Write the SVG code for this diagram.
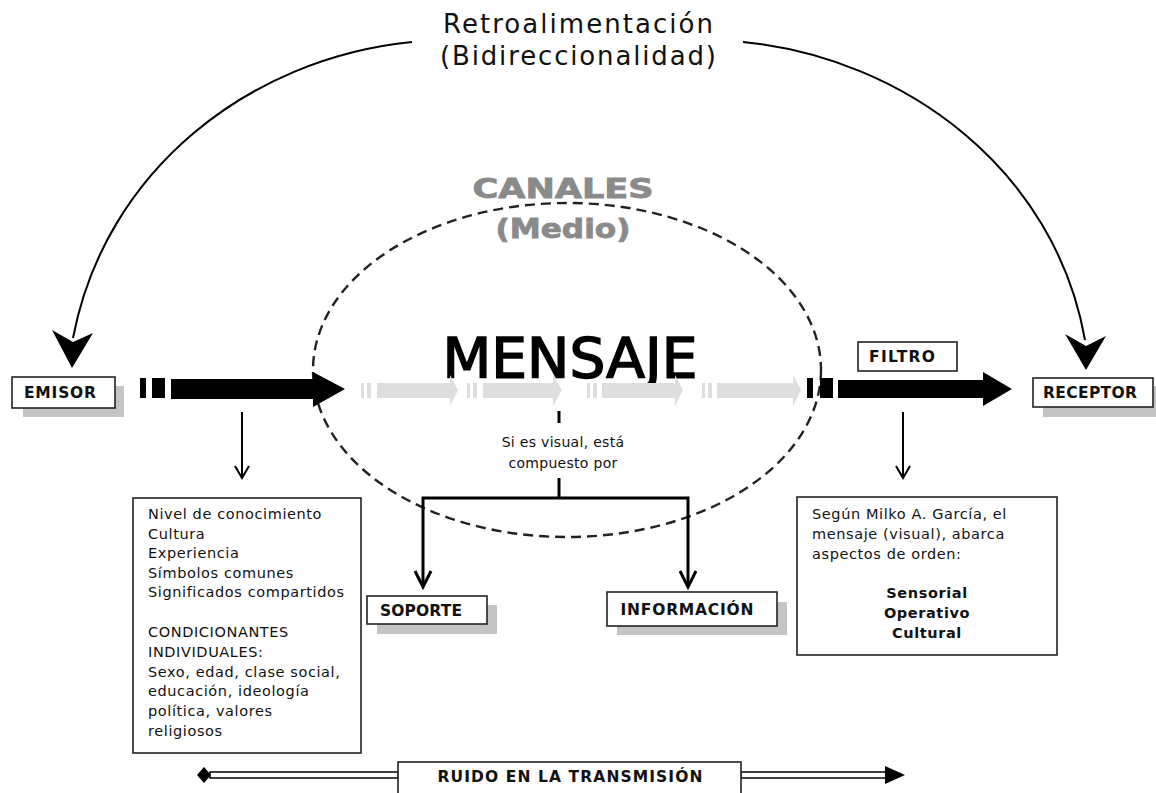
<svg xmlns="http://www.w3.org/2000/svg" width="1156" height="793" viewBox="0 0 1156 793">
<style>
.lbl{font-family:"DejaVu Sans","Verdana",sans-serif;font-weight:bold;font-size:15.5px;fill:#111}
.body{font-family:"DejaVu Sans","Verdana",sans-serif;font-size:14.5px;fill:#111;letter-spacing:0.6px}
.box{fill:#fff;stroke:#222;stroke-width:1.6}
.shadow{fill:#c4c4c4}
.ghost{fill:#dedede}
.blk{fill:#000}
.ln{fill:none;stroke:#000}
.gray{font-family:"DejaVu Sans","Liberation Sans",sans-serif;font-weight:bold;font-size:26px;fill:#8a8a8a;stroke:#8a8a8a;stroke-width:0.8}
.ttl{font-family:"DejaVu Sans","Verdana",sans-serif;font-size:26px;fill:#111}
</style>
<rect width="1156" height="793" fill="#fff"/>

<g id="title">
<text class="ttl" x="578" y="33" text-anchor="middle" textLength="270" lengthAdjust="spacing">Retroalimentación</text>
<text class="ttl" x="578" y="65" text-anchor="middle" textLength="276" lengthAdjust="spacing">(Bidireccionalidad)</text>
</g>

<g id="canales">
<ellipse cx="567" cy="370" rx="254" ry="167" fill="none" stroke="#222" stroke-width="2.4" stroke-dasharray="10,6"/>
<text class="gray" x="563" y="198" text-anchor="middle" textLength="181" lengthAdjust="spacingAndGlyphs">CANALES</text>
<text class="gray" x="563" y="238" text-anchor="middle" textLength="135" lengthAdjust="spacingAndGlyphs">(Medio)</text>
</g>

<g id="mensaje">
<text x="570" y="377" text-anchor="middle" font-family="DejaVu Sans, Verdana, sans-serif" font-size="55" fill="#000" stroke="#000" stroke-width="1.6" textLength="255" lengthAdjust="spacingAndGlyphs">MENSAJE</text>
</g>

<g id="connectors">
<path class="ln" d="M 412 42 C 250 58, 105 170, 73 338" stroke="#333" stroke-width="2"/>
<polygon class="blk" points="52,330 73,342 93,333 72,368"/>
<path class="ln" d="M 743 42 C 905 58, 1055 170, 1085 340" stroke="#333" stroke-width="2"/>
<polygon class="blk" points="1065,334 1086,346 1106,336 1086,370"/>

<rect class="blk" x="140" y="378" width="6" height="20"/>
<rect class="blk" x="152" y="378" width="13" height="20"/>
<polygon class="blk" points="171,379 313,379 313,372 345,389 313,407 313,399 171,399"/>

<g class="ghost">
<rect x="361" y="383" width="3" height="15"/><rect x="367" y="383" width="4" height="15"/>
<polygon points="377,383 450,383 450,375 458,390 450,406 450,398 377,398"/>
<rect x="467" y="383" width="3" height="15"/><rect x="473" y="383" width="4" height="15"/>
<polygon points="483,383 553,383 553,375 562,390 553,406 553,398 483,398"/>
<rect x="587" y="383" width="3" height="15"/><rect x="593" y="383" width="4" height="15"/>
<polygon points="602,383 675,383 675,375 683,390 675,406 675,398 602,398"/>
<rect x="702" y="383" width="3" height="15"/><rect x="708" y="383" width="4" height="15"/>
<polygon points="717,383 793,383 793,375 801,390 793,406 793,398 717,398"/>
</g>

<rect class="blk" x="807" y="378" width="6" height="20"/>
<rect class="blk" x="820" y="378" width="13" height="20"/>
<polygon class="blk" points="838,380 983,380 983,372 1012,389 983,406 983,398 838,398"/>

<line class="ln" x1="242" y1="412" x2="242" y2="477" stroke-width="2"/>
<polyline class="ln" points="235,466 242,478 249,466" stroke-width="2"/>
<line class="ln" x1="903" y1="412" x2="903" y2="477" stroke-width="2"/>
<polyline class="ln" points="896,466 903,478 910,466" stroke-width="2"/>

<line class="ln" x1="559" y1="411" x2="559" y2="423" stroke-width="3"/>
<line class="ln" x1="559" y1="478" x2="559" y2="498" stroke-width="3"/>
<polyline class="ln" points="423,586 423,498 688,498 688,586" stroke-width="3"/>
<polyline class="ln" points="415,571 423,587 431,571" stroke-width="3"/>
<polyline class="ln" points="680,571 688,587 696,571" stroke-width="3"/>

<polygon class="blk" points="197,775 204,767 211,775 204,783"/>
<rect x="210" y="772" width="188" height="6" fill="#fff" stroke="#000" stroke-width="1.5"/>
<rect x="741" y="772" width="146" height="6" fill="#fff" stroke="#000" stroke-width="1.5"/>
<polygon class="blk" points="885,766 905,775 885,784"/>
</g>

<g id="emisor">
<rect class="shadow" x="23" y="386" width="101" height="31"/>
<rect class="box" x="12" y="377" width="103" height="31"/>
<text class="lbl" x="60" y="398" text-anchor="middle" textLength="72" lengthAdjust="spacing">EMISOR</text>
</g>

<g id="filtro">
<rect class="box" x="858" y="342" width="99" height="29"/>
<text class="lbl" x="902" y="362" text-anchor="middle" textLength="66" lengthAdjust="spacing">FILTRO</text>
</g>

<g id="receptor">
<rect class="shadow" x="1043" y="386" width="113" height="31"/>
<rect class="box" x="1033" y="378" width="120" height="29"/>
<text class="lbl" x="1090" y="398" text-anchor="middle" textLength="94" lengthAdjust="spacing">RECEPTOR</text>
</g>

<g id="soporte">
<rect class="shadow" x="377" y="605" width="120" height="29"/>
<rect class="box" x="367" y="596" width="120" height="28"/>
<text class="lbl" x="421" y="616" text-anchor="middle" textLength="82" lengthAdjust="spacing">SOPORTE</text>
</g>

<g id="informacion">
<rect class="shadow" x="617" y="602" width="170" height="33"/>
<rect class="box" x="607" y="592" width="170" height="34"/>
<text class="lbl" x="687" y="615" text-anchor="middle" textLength="133" lengthAdjust="spacing">INFORMACIÓN</text>
</g>

<g id="visual-note">
<text x="563" y="447" text-anchor="middle" font-family="DejaVu Sans, Verdana, sans-serif" font-size="14" fill="#111" letter-spacing="0.3">Si es visual, está</text>
<text x="563" y="468" text-anchor="middle" font-family="DejaVu Sans, Verdana, sans-serif" font-size="14" fill="#111" letter-spacing="0.3">compuesto por</text>
</g>

<g id="emisor-factors">
<rect class="box" x="133" y="498" width="228" height="255"/>
<text class="body" x="148" y="519">Nivel de conocimiento</text>
<text class="body" x="148" y="539">Cultura</text>
<text class="body" x="148" y="558">Experiencia</text>
<text class="body" x="148" y="578">Símbolos comunes</text>
<text class="body" x="148" y="597">Significados compartidos</text>
<text class="body" x="148" y="637">CONDICIONANTES</text>
<text class="body" x="148" y="657">INDIVIDUALES:</text>
<text class="body" x="148" y="677">Sexo, edad, clase social,</text>
<text class="body" x="148" y="696">educación, ideología</text>
<text class="body" x="148" y="716">política, valores</text>
<text class="body" x="148" y="736">religiosos</text>
</g>

<g id="receptor-aspects">
<rect class="box" x="797" y="497" width="260" height="158"/>
<text class="body" x="812" y="519">Según Milko A. García, el</text>
<text class="body" x="812" y="539">mensaje (visual), abarca</text>
<text class="body" x="812" y="559">aspectos de orden:</text>
<text class="body" x="927" y="598" text-anchor="middle" font-weight="bold" letter-spacing="0">Sensorial</text>
<text class="body" x="927" y="618" text-anchor="middle" font-weight="bold" letter-spacing="0">Operativo</text>
<text class="body" x="927" y="638" text-anchor="middle" font-weight="bold" letter-spacing="0">Cultural</text>
</g>

<g id="ruido">
<rect class="box" x="398" y="762" width="343" height="34"/>
<text class="lbl" x="570" y="782" text-anchor="middle" textLength="265" lengthAdjust="spacing">RUIDO EN LA TRANSMISIÓN</text>
</g>
</svg>
